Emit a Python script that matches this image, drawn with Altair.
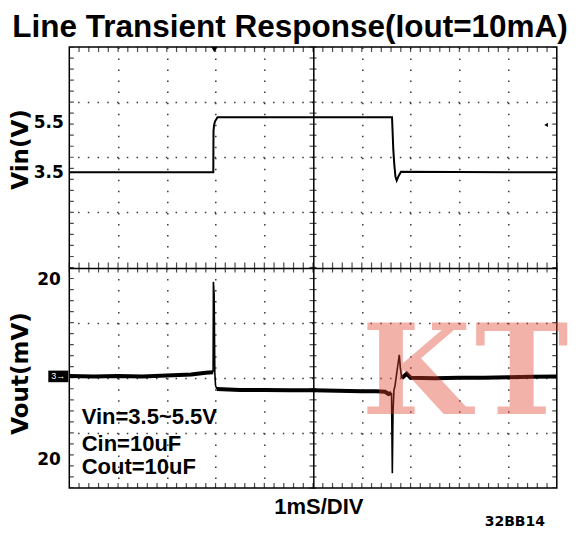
import altair as alt
import pandas as pd

FONT = "Liberation Sans"
FONT2 = "DejaVu Sans"

TITLE = "Line Transient Response(Iout=10mA)"
X_TITLE = "1mS/DIV"
CODE = "32BB14"
VIN_TITLE = "Vin(V)"
VOUT_TITLE = "Vout(mV)"

# time base: ms, 1 ms/div, 10 divisions
x_domain = [0, 10]
vin_domain = [0.046, 8.046]     # V (2 V/div), upper half of the screen
vout_domain = [-24.8, 24.2]     # mV, lower half of the screen

vin_ticks = [3.5, 5.5]
vout_ticks = [-20, 20]

# Vin trace
vin_t = [0, 2.954, 2.958, 2.97, 2.99, 3.04, 6.62, 6.646, 6.667, 6.69, 6.716, 6.75, 6.804, 10]
vin_v = [3.5, 3.5, 5.0, 5.22, 5.35, 5.5, 5.5, 4.33, 3.78, 3.35, 3.2, 3.35, 3.52, 3.5]

# Vout trace, steady (noisy) stretches
vout_a_t = [0, 0.5, 1.0, 1.5, 2.0, 2.5, 2.8, 2.95]
vout_a_mv = [0.1, 0.0, 0.1, 0.0, 0.2, 0.4, 0.8, 0.9]
vout_c_t = [3.025, 3.5, 4.0, 4.5, 5.0, 5.5, 6.0, 6.3, 6.476, 6.55, 6.61]
vout_c_mv = [-2.8, -3.0, -3.0, -3.1, -3.1, -3.2, -3.3, -3.3, -3.4, -3.9, -3.7]
vout_e_t = [6.818, 6.92, 7.0, 7.5, 8.0, 8.5, 9.0, 9.5, 10]
vout_e_mv = [-0.4, 0.6, -0.3, -0.4, -0.3, -0.3, -0.2, -0.1, 0.0]
# Vout trace, transients
vout_b_t = [2.95, 2.956, 2.972, 2.985, 3.0, 3.025]
vout_b_mv = [0.9, 21.0, 18.0, 0.7, -2.0, -2.8]
vout_d_t = [6.61, 6.626, 6.64, 6.66, 6.68, 6.72, 6.769, 6.79, 6.818]
vout_d_mv = [-3.7, -21.5, -8.0, -3.0, -2.2, 1.0, 4.8, 2.0, -0.4]

# annotation
ann_text = ["Vin=3.5~5.5V", "Cin=10uF", "Cout=10uF"]
ann_t = [0.254, 0.254, 0.254]
ann_mv = [-9.1, -15.0, -20.2]

# watermark letters
wm_letters = ["K", "T"]

# scope markers
trig_t = [2.974]
trig_level_t = [9.78]
trig_level_v = [5.22]
ch3_ground_mv = [0]

# graticule structure (10 x 8 divisions, 5 minor each)
x_minor = [round(i * 0.2, 1) for i in range(51)]
d_minor = [round(i * 0.2, 1) for i in range(41)]

W, H = 487.5, 441

# ---------- shared x ----------
X = alt.X(
    "t:Q", scale=alt.Scale(domain=x_domain, nice=False, zero=False),
    axis=alt.Axis(
        values=list(range(1, 10)), grid=True, labels=False, ticks=False, domain=False,
        gridDash=alt.condition("datum.value == 5", alt.value([]), alt.value([1.5, 9.525])),
        gridColor=alt.condition("datum.value == 5", alt.value("#000000"), alt.value("#3a3a3a")),
        gridWidth=1.5, minExtent=0, maxExtent=0,
        title=X_TITLE, titleFont=FONT, titleFontSize=22, titleFontWeight="bold",
        titleColor="black", titlePadding=8.5, titleX=249,
    ),
)

# ---------- graticule (division units) ----------
D = alt.Y(
    "d:Q", scale=alt.Scale(domain=[0, 8], nice=False, zero=False),
    axis=alt.Axis(
        orient="right", values=list(range(1, 8)), grid=True, labels=False, ticks=False,
        domain=False, title=None, minExtent=0, maxExtent=0,
        gridDash=alt.condition("datum.value == 4", alt.value([]), alt.value([1.5, 8.25])),
        gridColor=alt.condition("datum.value == 4", alt.value("#000000"), alt.value("#3a3a3a")),
        gridWidth=alt.condition("datum.value == 4", alt.value(1.6), alt.value(1.5)),
    ),
)
n = len(x_minor)
m = len(d_minor)
xt_edge = pd.DataFrame({"t": x_minor * 2, "d": [0] * n + [8] * n})
xt_mid = pd.DataFrame({"t": x_minor, "d": [4] * n})
yt_edge = pd.DataFrame({"t": [0] * m + [10] * m, "d": d_minor * 2})
yt_mid = pd.DataFrame({"t": [5] * m, "d": d_minor})
frame = alt.layer(
    alt.Chart(xt_edge).mark_tick(orient="vertical", size=10, thickness=1.2, clip=True, color="black").encode(x=X, y=D),
    alt.Chart(xt_mid).mark_tick(orient="vertical", size=10, thickness=1.2, color="black").encode(x=X, y=D),
    alt.Chart(yt_edge).mark_tick(orient="horizontal", size=9, thickness=1.2, clip=True, color="black").encode(x=X, y=D),
    alt.Chart(yt_mid).mark_tick(orient="horizontal", size=7, thickness=1.2, color="black").encode(x=X, y=D),
)

# ---------- upper half: Vin ----------
Yv = alt.Y(
    "v:Q", scale=alt.Scale(domain=vin_domain, range=[H / 2, 0], nice=False, zero=False),
    axis=alt.Axis(
        orient="left", values=vin_ticks, format=".1f", labelFont=FONT2, labelFontSize=17,
        labelFontWeight="bold", labelColor="black", labelPadding=6,
        labelOffset=alt.condition("datum.value > 5", alt.value(5), alt.value(0.5)),
        ticks=False, domain=False, grid=False, title=VIN_TITLE, titleFont=FONT2, titleFontSize=23,
        titleFontWeight="bold", titleColor="black", titlePadding=2, titleY=102,
        minExtent=35, maxExtent=35,
    ),
)
vin_line = alt.Chart(pd.DataFrame({"t": vin_t, "v": vin_v})).mark_line(
    color="black", strokeWidth=2, strokeJoin="miter").encode(x=X, y=Yv)
lvl = alt.Chart(pd.DataFrame({"t": trig_level_t, "v": trig_level_v})).mark_point(
    shape="triangle-left", size=18, filled=True, color="black", opacity=1).encode(x=X, y=Yv)
trig = alt.Chart(pd.DataFrame({"t": trig_t})).mark_point(
    shape="triangle-down", size=40, filled=True, color="black", opacity=1).encode(x=X, y=alt.value(2.5))
upper = alt.layer(vin_line, lvl, trig)

# ---------- lower half: Vout ----------
Ym = alt.Y(
    "mv:Q", scale=alt.Scale(domain=vout_domain, range=[H, H / 2], nice=False, zero=False),
    axis=alt.Axis(
        orient="left", values=vout_ticks, labelExpr="format(abs(datum.value), 'd')", labelFont=FONT2,
        labelFontSize=17, labelFontWeight="bold", labelColor="black", labelPadding=9, labelOffset=-6.5,
        ticks=False, domain=False, grid=False, title=VOUT_TITLE, titleFont=FONT2, titleFontSize=23,
        titleFontWeight="bold", titleColor="black", titlePadding=2, titleY=326,
        minExtent=35, maxExtent=35,
    ),
)
steady = pd.DataFrame({
    "t": vout_a_t + vout_c_t + vout_e_t,
    "mv": vout_a_mv + vout_c_mv + vout_e_mv,
    "seg": ["a"] * len(vout_a_t) + ["c"] * len(vout_c_t) + ["e"] * len(vout_e_t),
})
trans = pd.DataFrame({
    "t": vout_b_t + vout_d_t,
    "mv": vout_b_mv + vout_d_mv,
    "seg": ["b"] * len(vout_b_t) + ["d"] * len(vout_d_t),
})
steady_line = alt.Chart(steady).mark_line(color="black", strokeWidth=4).encode(x=X, y=Ym, detail="seg:N")
trans_line = alt.Chart(trans).mark_line(color="black", strokeWidth=1.6).encode(x=X, y=Ym, detail="seg:N")
ann = alt.Chart(pd.DataFrame({"t": ann_t, "mv": ann_mv, "txt": ann_text})).mark_text(
    align="left", baseline="middle", font=FONT, fontSize=22, fontWeight="bold", color="black"
).encode(x=X, y=Ym, text="txt:N")
gnd = pd.DataFrame({"mv": ch3_ground_mv})
gnd_box = alt.Chart(gnd).mark_point(
    shape="M-1,-0.58L1,-0.58L1,0.58L-1,0.58Z", size=400, filled=True, color="black", opacity=1
).encode(x=alt.value(-11), y=Ym)
gnd_txt = alt.Chart(gnd).mark_text(
    text="3\u2192", color="white", fontSize=9, font=FONT, align="center", baseline="middle"
).encode(x=alt.value(-11), y=Ym)
one = pd.DataFrame({"k": [0]})
wm_style = dict(font="DejaVu Serif", fontWeight="bold", fontSize=126, align="left",
                baseline="alphabetic", color="#e13e2a", opacity=0.4)
wm_k = alt.Chart(one).mark_text(text=wm_letters[0], **wm_style).encode(x=alt.value(292.3), y=alt.value(367))
wm_t = alt.Chart(one).mark_text(text=wm_letters[1], **wm_style).encode(x=alt.value(405.5), y=alt.value(367))
code = alt.Chart(one).mark_text(
    text=CODE, font=FONT2, fontSize=14, fontWeight="bold", align="right",
    baseline="alphabetic", color="black"
).encode(x=alt.value(475.7), y=alt.value(479))
lower = alt.layer(steady_line, trans_line, ann, gnd_box, gnd_txt, wm_k, wm_t, code)

chart = alt.layer(frame, upper, lower).resolve_scale(y="independent").properties(
    width=W, height=H,
    title=alt.TitleParams(TITLE, font=FONT, fontSize=31.5, fontWeight="bold", color="black",
                          anchor="middle", frame="group", dx=-23, offset=3),
    autosize=alt.AutoSizeParams(type="none"),
    padding={"left": 61.3, "top": 39, "right": 15, "bottom": 42},
).configure_view(stroke="black", strokeWidth=1.5)

chart.save("out.html", embed_options={"renderer": "svg", "actions": False})
